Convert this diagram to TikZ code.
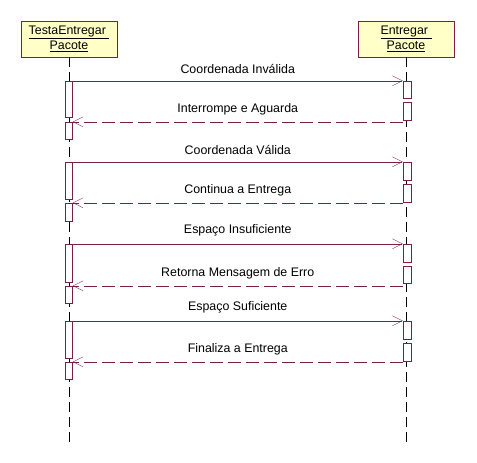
\documentclass[tikz,border=0pt]{standalone}
\usepackage{fontspec}
\setmainfont{Liberation Sans}
\usepackage{xcolor}
\usepackage{tikz}
\usetikzlibrary{positioning}
\usetikzlibrary{arrows.meta}
\usetikzlibrary{calc}

\definecolor{rosa}{HTML}{7A2048}
\definecolor{creme}{HTML}{FFFFC8}

\begin{document}
\begin{tikzpicture}[x=1pt,y=-1pt,font=\fontsize{12.4}{14}\selectfont,
  objeto/.style={draw=rosa,fill=creme,align=center,minimum width=96pt,minimum height=36pt,inner sep=1pt},
  ativ/.style={draw=rosa,fill=white,minimum width=7pt,inner sep=0pt},
  vida/.style={draw=black,dash pattern=on 10pt off 5pt},
  msg/.style={draw=rosa,-{Straight Barb[length=10pt,width=10pt]}},
  ret/.style={draw=rosa,dash pattern=on 13pt off 5pt,-{Straight Barb[length=10pt,width=10pt]}},
  rotulo/.style={above=7pt,midway,inner sep=0pt}]
  \useasboundingbox (0,0) rectangle (477,463);
  \node[objeto] (Testa) at (69,39) {\underline{TestaEntregar\ }\\[1.5pt]\underline{Pacote}};
  \node[objeto] (Entregar) at (406,39) {\underline{Entregar\ }\\[1.5pt]\underline{Pacote}};
  \coordinate (fim) at (0,445);
  \draw[vida] (Testa.south) -- (Testa.south |- fim);
  \draw[vida] (Entregar.south) -- (Entregar.south |- fim);
  % ativacoes do cliente
  \node[ativ,minimum height=36pt] (a1) at (69,99) {};
  \node[ativ,minimum height=17pt] (a2) at (69,130.5) {};
  \node[ativ,minimum height=37pt] (a3) at (69,180.5) {};
  \node[ativ,minimum height=18pt] (a4) at (69,212) {};
  \node[ativ,minimum height=38pt] (a5) at (69,263) {};
  \node[ativ,minimum height=17pt] (a6) at (69,294.5) {};
  \node[ativ,minimum height=37pt] (a7) at (69,339.5) {};
  \node[ativ,minimum height=17pt] (a8) at (69,370.5) {};
  % ativacoes do servidor
  \node[ativ,minimum width=8pt,minimum height=17pt] (b1) at (407,89.5) {};
  \node[ativ,minimum width=8pt,minimum height=18pt] (b2) at (407,111) {};
  \node[ativ,minimum width=8pt,minimum height=18pt] (b3) at (407,171) {};
  \node[ativ,minimum width=8pt,minimum height=18pt] (b4) at (407,193) {};
  \node[ativ,minimum width=8pt,minimum height=18pt] (b5) at (407,253) {};
  \node[ativ,minimum width=8pt,minimum height=17pt] (b6) at (407,274.5) {};
  \node[ativ,minimum width=8pt,minimum height=18pt] (b7) at (407,330) {};
  \node[ativ,minimum width=8pt,minimum height=18pt] (b8) at (407,352) {};
  % mensagens
  \draw[msg] (a1.north east) -- (b1.north west) node[rotulo] {Coordenada Inválida};
  \draw[ret] (a2.north east -| b2.west) -- (a2.north east) node[rotulo] {Interrompe e Aguarda};
  \draw[msg] (a3.north east) -- (b3.north west) node[rotulo] {Coordenada Válida};
  \draw[ret] (a4.north east -| b4.west) -- (a4.north east) node[rotulo] {Continua a Entrega};
  \draw[msg] (a5.north east) -- (b5.north west) node[rotulo] {Espaço Insuficiente};
  \draw[ret] (a6.north east -| b6.west) -- (a6.north east) node[rotulo] {Retorna Mensagem de Erro};
  \draw[msg] (a7.north east) -- (b7.north west) node[rotulo] {Espaço Suficiente};
  \draw[ret] (a8.north east -| b8.west) -- (a8.north east) node[rotulo] {Finaliza a Entrega};
\end{tikzpicture}
\end{document}
